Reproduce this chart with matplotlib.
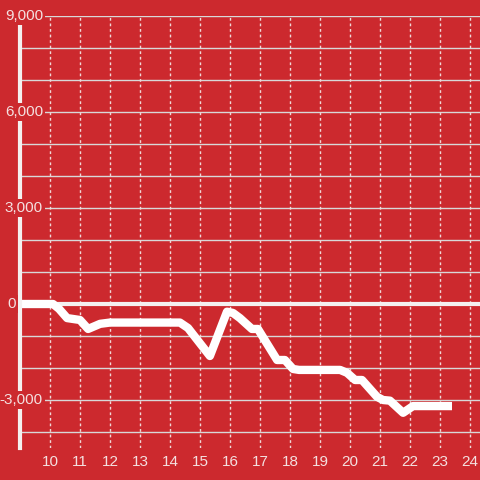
import matplotlib.pyplot as plt
from matplotlib.transforms import blended_transform_factory

plt.rcParams['font.family'] = ['Liberation Sans', 'DejaVu Sans']

# data
x = [9.0, 10.1, 10.3, 10.57, 11.0, 11.27, 11.67, 12.0, 14.33, 14.6, 15.33, 15.9,
     16.1, 16.33, 16.73, 16.93, 17.57, 17.83, 18.1, 18.3, 19.67, 19.9, 20.17, 20.4,
     20.9, 21.1, 21.33, 21.77, 22.1, 23.4]
y = [0, 0, -150, -440, -500, -780, -620, -580, -580, -750, -1625, -240,
     -280, -440, -780, -780, -1750, -1750, -2030, -2060, -2060, -2150, -2375, -2375,
     -2900, -3000, -3020, -3400, -3190, -3190]

y_labels = [9000, 6000, 3000, 0, -3000]
x_ticks = list(range(10, 25))

bg = '#cc292e'
fig = plt.figure(figsize=(4.8, 4.8), dpi=100, facecolor=bg)
ax = fig.add_axes([20 / 480, 32 / 480, 460 / 480, 432 / 480])
ax.set_facecolor(bg)
ax.set_xlim(9, 24.333)
ax.set_ylim(-4500, 9000)

# horizontal grid lines every 1000
for v in range(-4000, 9001, 1000):
    ax.axhline(v, color='#d8d8d8', lw=1, zorder=1)
# vertical dashed grid lines
for t in x_ticks:
    ax.axvline(t, color='#f0d8d8', lw=1, ls=(0, (2, 2)), zorder=1)

ax.axhline(0, color='#f4f0f0', lw=3, zorder=2)

ax.plot(x, y, color='white', lw=6, solid_joinstyle='round', solid_capstyle='butt', zorder=3)

for s in ['top', 'right', 'bottom']:
    ax.spines[s].set_visible(False)
ax.spines['left'].set_color('#f4f0f0')
ax.spines['left'].set_linewidth(3)
ax.spines['left'].set_zorder(4)

ax.set_yticks([])
ax.set_xticks(x_ticks)
ax.set_xticklabels([str(t) for t in x_ticks], color='#f4e0e0', fontsize=11)
ax.tick_params(axis='x', length=0, pad=5)

trans = blended_transform_factory(fig.transFigure, ax.transData)
for v in y_labels:
    right = 16 if v == 0 else 43
    ax.text(right / 480, v, f'{v:,}', transform=trans, ha='right', va='center',
            color='#f4e0e0', fontsize=11, zorder=5, clip_on=False,
            bbox=dict(facecolor=bg, edgecolor='none', pad=1.5))

fig.savefig('out.png', dpi=100, facecolor=bg)
